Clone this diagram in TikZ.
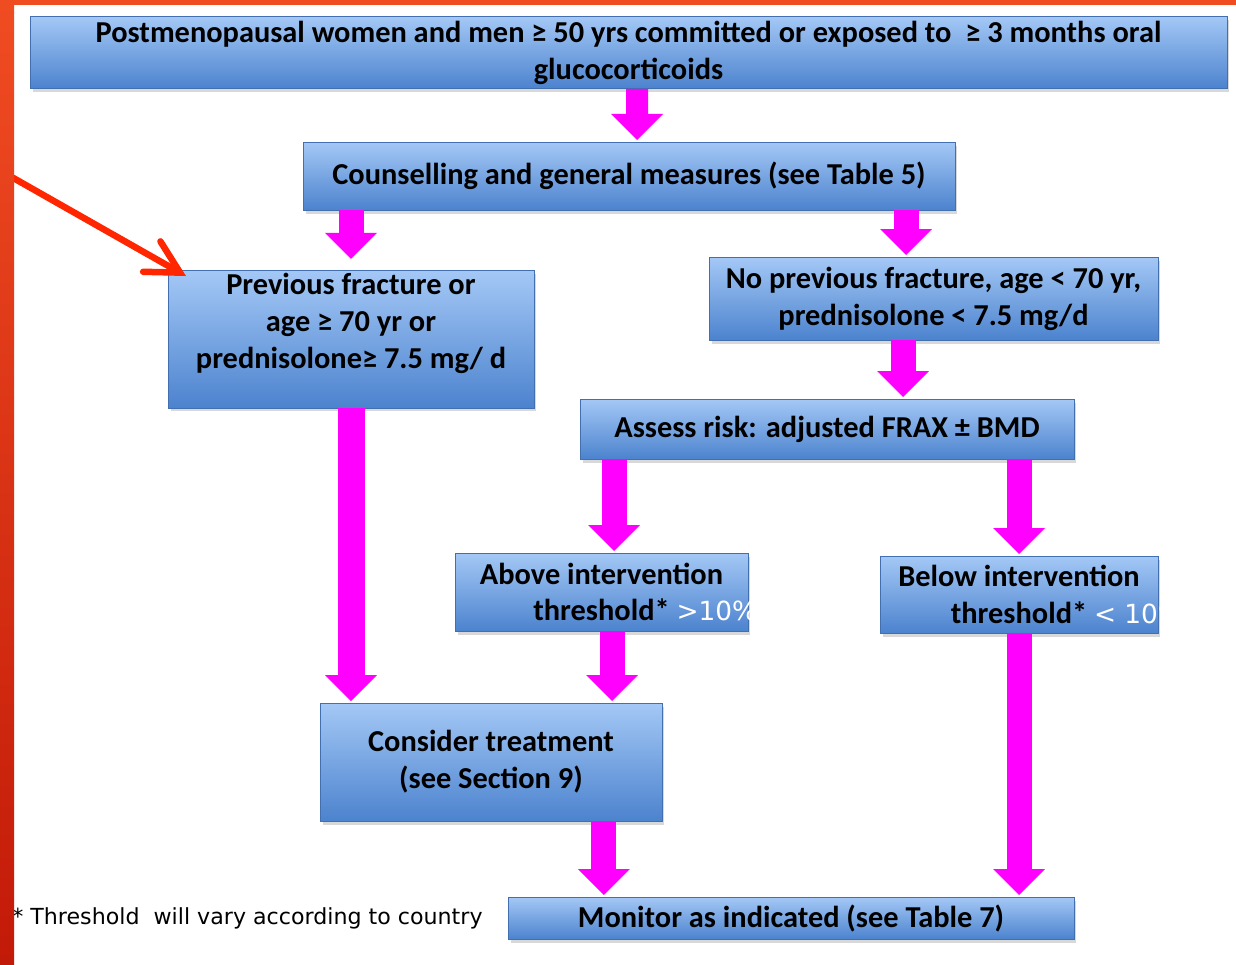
\documentclass[tikz,border=0pt]{standalone}
\usepackage{fontspec}
\setmainfont{Carlito}
\newfontfamily\notefont{DejaVu Sans}
\newfontfamily\pctfont{DejaVu Sans}
\usetikzlibrary{arrows.meta,shadows,positioning}
\definecolor{boxtop}{HTML}{A4C8F6}
\definecolor{boxbot}{HTML}{4C83CE}
\definecolor{pinkarrow}{HTML}{FF00FF}
\definecolor{redarrow}{HTML}{FF2600}
\definecolor{frametop}{HTML}{F04C22}
\definecolor{framebot}{HTML}{C21A08}

\begin{document}
\begin{tikzpicture}[x=0.02cm,y=-0.02cm,
    box/.style={draw=boxbot!85!black,line width=0.3pt,top color=boxtop,bottom color=boxbot,inner sep=0pt,align=center,
        font=\fontsize{17.3}{21}\selectfont\bfseries,
        drop shadow={shadow xshift=0.05cm,shadow yshift=-0.07cm,opacity=0.3}},
    fat/.style={-{Triangle[width=1.04cm,length=0.52cm,line width=0pt]},line width=0.5cm,color=pinkarrow,shorten >=1pt},
    redline/.style={draw=redarrow,line width=0.13cm,line cap=round,-{Straight Barb[length=0.65cm,width=0.7cm,line cap=round]}}]
    \useasboundingbox (0,0) rectangle (1236,964);
    \fill[white] (0,0) rectangle (1236,964);

    \node[box,minimum width=23.94cm,minimum height=1.44cm] (1) at (628.5,52.5) {Postmenopausal women and men ≥ 50 yrs committed or exposed to \ ≥ 3 months oral\\glucocorticoids};
    \node[box,minimum width=13.04cm,minimum height=1.36cm] (2) at (629,176) {Counselling and general measures (see Table 5)};
    \node[box,minimum width=7.32cm,minimum height=2.76cm] (3) at (351,339) {Previous fracture or\\age ≥ 70 yr or\\prednisolone≥ 7.5 mg/ d\\\mbox{}};
    \node[box,minimum width=8.98cm,minimum height=1.66cm] (4) at (933.5,298.5) {No previous fracture, age < 70 yr,\\prednisolone < 7.5 mg/d};
    \node[box,minimum width=9.88cm,minimum height=1.2cm] (5) at (827,429) {Assess risk: adjusted FRAX ± BMD};
    \node[box,minimum width=5.86cm,minimum height=1.56cm] (6) at (601.5,592) {Above intervention\\threshold*\rlap{ {\pctfont\mdseries\fontsize{15}{18}\selectfont\color{white}>10\%}}};
    \node[box,minimum width=5.56cm,minimum height=1.54cm] (7) at (1019,594.5) {Below intervention\\threshold*\rlap{ {\pctfont\mdseries\fontsize{15}{18}\selectfont\color{white}< 10\%}}};
    \node[box,minimum width=6.84cm,minimum height=2.36cm] (8) at (491,762) {Consider treatment\\(see Section 9)};
    \node[box,minimum width=11.32cm,minimum height=0.84cm] (9) at (791,918) {Monitor as indicated (see Table 7)};

    \node[anchor=west,inner sep=0pt,font=\notefont\fontsize{12.6}{14}\selectfont] (note) at (12,918) {* Threshold\ \ will vary according to country};

    % pink arrows
    \path
        ([xshift=0.17cm]1.south) edge[fat,line width=0.44cm] ([xshift=0.16cm]2.north)
        (2.south -| 3.north) edge[fat,shorten >=0.22cm] (3.north)
        ([xshift=-0.55cm]4.north |- 2.south) edge[fat] ([xshift=-0.55cm]4.north)
        ([xshift=-0.61cm]4.south) edge[fat] ([xshift=-0.61cm]4.south |- 5.north)
        (3.south) edge[fat,line width=0.54cm] (3.south |- 8.north)
        ([xshift=0.25cm]6.north |- 5.south) edge[fat] ([xshift=0.25cm]6.north)
        (7.north |- 5.south) edge[fat] (7.north)
        ([xshift=0.21cm]6.south) edge[fat] ([xshift=0.21cm]6.south |- 8.north)
        ([xshift=2.26cm]8.south) edge[fat] ([xshift=2.26cm]8.south |- 9.north)
        (7.south) edge[fat] (7.south |- 9.north)
        ;

    % red pointer and frame
    \coordinate (red0) at (-6,167);
    \coordinate (red1) at (186,276);
    \draw[redline] (red0) -- (red1);
    \fill[top color=frametop,bottom color=framebot] (0,0) rectangle (14,964);
    \fill[frametop] (0,0) rectangle (1236,5);
\end{tikzpicture}
\end{document}
